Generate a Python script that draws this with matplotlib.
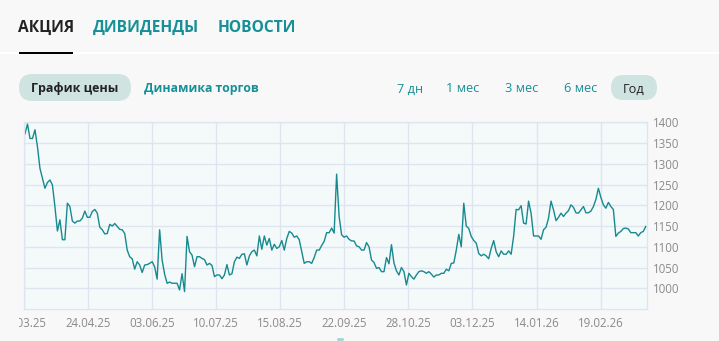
import matplotlib
matplotlib.use("Agg")
import matplotlib.pyplot as plt
import numpy as np
from matplotlib.patches import FancyBboxPatch, Rectangle
from matplotlib.transforms import IdentityTransform, Bbox

# daily close prices (trading days)
spring = [1372, 1396, 1361, 1361, 1382, 1341, 1289, 1265, 1241, 1255,
          1261, 1249, 1197, 1138, 1165, 1117, 1117, 1205, 1197, 1162,
          1157, 1162, 1162, 1169, 1186, 1171, 1171, 1185, 1190, 1181,
          1147, 1141, 1131, 1132, 1154, 1150, 1156, 1149, 1142, 1141,
          1132, 1092, 1076, 1071, 1046, 1064, 1056, 1038, 1056, 1057]
summer = [1060, 1064, 1052, 1022, 1141, 1068, 1034, 1012, 1015, 1012,
          1012, 1012, 996, 1035, 992, 1125, 1088, 1080, 1052, 1076,
          1076, 1072, 1069, 1056, 1060, 1055, 1028, 1032, 1032, 1023,
          1032, 1057, 1032, 1035, 1064, 1075, 1072, 1082, 1083, 1056,
          1078, 1088, 1092, 1078, 1126, 1094, 1126, 1104, 1120, 1092]
autumn = [1106, 1096, 1100, 1115, 1092, 1120, 1137, 1133, 1123, 1126,
          1117, 1088, 1060, 1064, 1064, 1060, 1074, 1092, 1092, 1103,
          1113, 1134, 1134, 1145, 1133, 1275, 1173, 1129, 1123, 1126,
          1118, 1114, 1114,
          1102, 1100, 1092, 1092, 1110, 1100, 1068, 1062, 1048, 1050,
          1040, 1040, 1074, 1059, 1105, 1061, 1042, 1032, 1050, 1040,
          1008, 1036, 1028, 1022, 1032, 1040, 1042, 1040, 1036, 1040,
          1034, 1027, 1032, 1032, 1036, 1036, 1046, 1042, 1060, 1061]
winter = [1092, 1130, 1100, 1205, 1150, 1144, 1125, 1115, 1109, 1084,
          1078, 1082, 1078, 1071, 1096, 1115, 1088, 1076, 1090, 1082,
          1082, 1090, 1082, 1125, 1190, 1189, 1199, 1157, 1155, 1210,
          1181, 1126, 1126, 1126, 1118, 1141, 1147, 1169, 1210, 1189,
          1163, 1171, 1181, 1173, 1181, 1187, 1201, 1195, 1182, 1181,
          1189, 1197, 1182, 1182, 1186, 1197, 1214, 1241, 1219, 1201,
          1193, 1207, 1197, 1190, 1125, 1133, 1137, 1144, 1145, 1143,
          1134, 1134, 1134, 1126, 1134, 1137, 1149]

date_labels = ["18.03.25", "24.04.25", "03.06.25", "10.07.25", "15.08.25",
               "22.09.25", "28.10.25", "03.12.25", "14.01.26", "19.02.26"]
price_ticks = [1000, 1050, 1100, 1150, 1200, 1250, 1300, 1350, 1400]

tabs = ["АКЦИЯ", "ДИВИДЕНДЫ", "НОВОСТИ"]
periods = ["7 дн", "1 мес", "3 мес", "6 мес", "Год"]

prices = np.array(spring + summer + autumn + winter)

plt.rcParams["font.family"] = ["Open Sans", "DejaVu Sans"]

TEAL = "#168f96"
DARK = "#222222"
PILL = "#cfe3e1"
W, H = 719, 341

fig = plt.figure(figsize=(W / 100, H / 100), dpi=100, facecolor="#f8f8f8")
pix = IdentityTransform()


def ptext(x, y, s, **kw):
    # text placed in output pixels, y measured from the top
    fig.text(x, H - y, s, transform=pix, **kw)


# --- header tabs
for name, cx, col in zip(tabs, [46, 145.5, 257], [DARK, TEAL, TEAL]):
    ptext(cx, 31.5, name, ha="center", va="baseline", fontsize=11.2,
          fontweight="bold", color=col)
fig.add_artist(Rectangle((0, H - 54), W, 2.2, transform=pix, color="white", lw=0))
fig.add_artist(Rectangle((19, H - 54), 54, 2.5, transform=pix, color="black", lw=0))

# --- chart type buttons
fig.add_artist(FancyBboxPatch((19, H - 101), 112, 27, transform=pix,
                              boxstyle="round,pad=0,rounding_size=13.5",
                              fc=PILL, ec="none"))
ptext(75, 92.3, "График цены", ha="center", va="baseline", fontsize=9,
      fontweight="bold", color=DARK)
ptext(201, 92.3, "Динамика торгов", ha="center", va="baseline", fontsize=8.8,
      fontweight="bold", color=TEAL)

# --- period buttons
fig.add_artist(FancyBboxPatch((611, H - 100), 46, 25, transform=pix,
                              boxstyle="round,pad=0,rounding_size=12.5",
                              fc=PILL, ec="none"))
for name, cx in zip(periods, [410, 463, 521.5, 581, 634]):
    ptext(cx, 92.5, name, ha="center", va="baseline", fontsize=9.2,
          color=DARK if name == "Год" else TEAL)

# --- price chart
ax = fig.add_axes([24 / W, 1 - 309 / H, (647 - 24) / W, (309 - 122.3) / H])
ax.set_facecolor("#f4f9fa")
ax.plot(np.arange(len(prices)), prices, color="#168a8e", lw=1.0)

ax.set_xlim(-0.4, 249.5)
ax.set_ylim(950, 1400)
tick_pos = -0.4 + 25.7 * np.arange(len(date_labels))
ax.set_xticks(tick_pos)
ax.set_xticklabels(date_labels)
ax.set_yticks(price_ticks)
ax.yaxis.tick_right()
ax.grid(True, color="#dfe5f0", lw=1)
ax.set_axisbelow(True)
for s in ax.spines.values():
    s.set_color("#dfe5f0")
    s.set_linewidth(1)
ax.tick_params(axis="both", length=0, colors="#8a8a8a", labelsize=8.3)
ax.tick_params(axis="x", pad=6)
ax.tick_params(axis="y", pad=4)

# the first date label is cut by the page container
clip = Bbox([[19, 0], [W, H]])
for lab in ax.get_xticklabels():
    lab.set_clip_on(True)
    lab.set_clip_box(clip)

# scroll handle peeking in at the bottom
fig.add_artist(FancyBboxPatch((337, 0), 7, 3, transform=pix,
                              boxstyle="round,pad=0,rounding_size=1.5",
                              fc="#a6d6d6", ec="none"))

fig.savefig("out.png", dpi=100, facecolor=fig.get_facecolor())
